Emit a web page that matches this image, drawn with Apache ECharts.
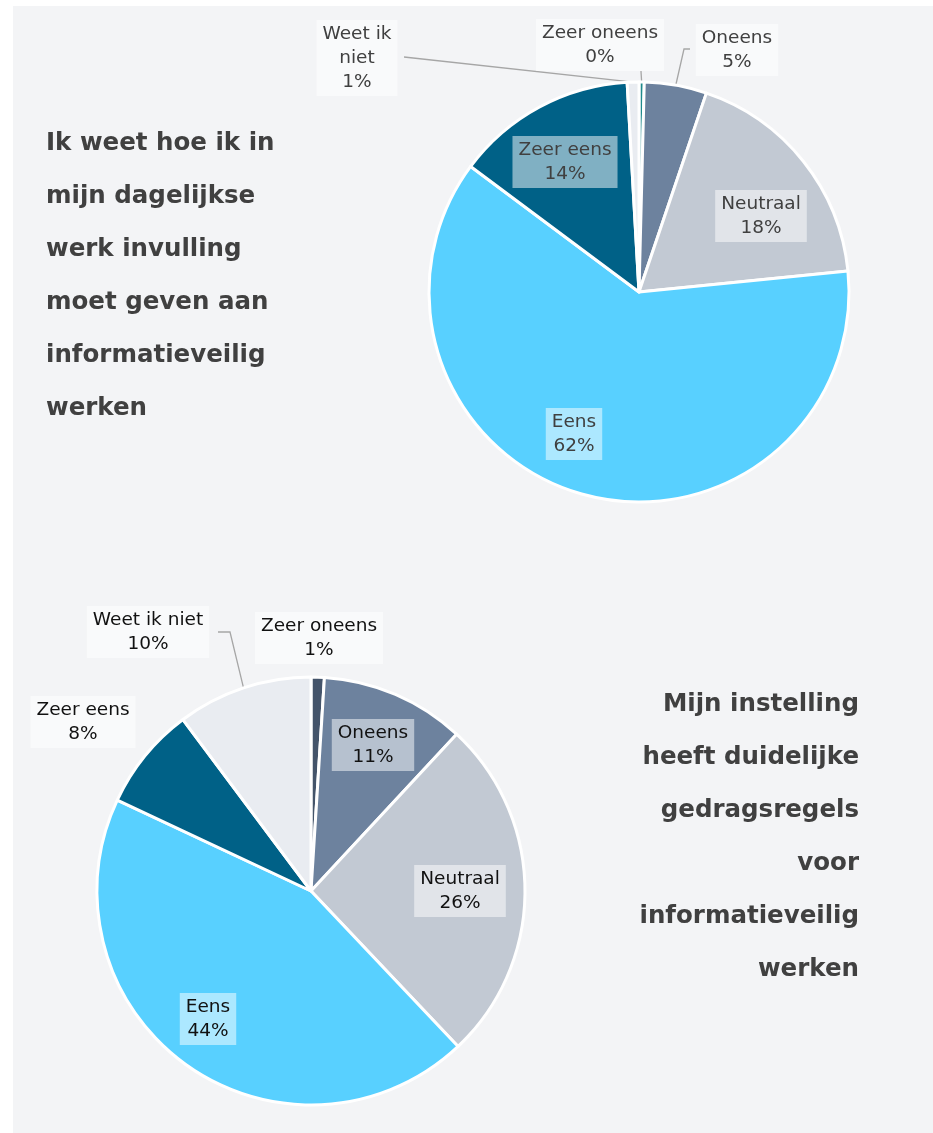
<!DOCTYPE html>
<html><head><meta charset="utf-8">
<script src="https://cdn.jsdelivr.net/npm/echarts@6/dist/echarts.min.js"></script>
<style>html,body{margin:0;padding:0;background:#fff}#c{width:933px;height:1133px}</style>
</head><body><div id="c"></div>
<script>
// ---- data ----
const categories = ['Zeer oneens', 'Oneens', 'Neutraal', 'Eens', 'Zeer eens', 'Weet ik niet'];
const topValues = [0.4, 4.8, 18.2, 61.8, 13.9, 0.9];
const bottomValues = [1.0, 10.9, 26.0, 44.0, 7.8, 10.2];
const topLabelNames = ['Zeer oneens', 'Oneens', 'Neutraal', 'Eens', 'Zeer eens', 'Weet ik\nniet'];
const bottomLabelNames = ['Zeer oneens', 'Oneens', 'Neutraal', 'Eens', 'Zeer eens', 'Weet ik niet'];
const topTitle = ['Ik weet hoe ik in', 'mijn dagelijkse', 'werk invulling', 'moet geven aan', 'informatieveilig', 'werken'];
const bottomTitle = ['Mijn instelling', 'heeft duidelijke', 'gedragsregels', 'voor', 'informatieveilig', 'werken'];

// ---- styling / layout ----
const topColors = ['#1f8a8c', '#6d829e', '#c2c9d3', '#58d0ff', '#006187', '#e9ecf1'];
const bottomColors = ['#44546a', '#6d829e', '#c2c9d3', '#58d0ff', '#006187', '#e9ecf1'];
const FONT = 'DejaVu Sans';

// label centre positions and leader-line elbows (null = no line)
const topLabelPos = [[600, 45], [737, 50], [761, 216], [574, 434], [565, 162], [357, 58]];
const topLineEnd = [[[641, 71]], [[684, 49], [690, 49]], null, null, null, [[404, 57]]];
const botLabelPos = [[319, 638], [373, 745], [460, 891], [208, 1019], [83, 722], [148, 632]];
const botLineEnd = [null, null, null, null, null, [[230, 632], [218, 632]]];

function buildData(values, colors, names, lines, txtColor) {
  return values.map((v, i) => ({
    value: v,
    name: categories[i],
    itemStyle: { color: colors[i] },
    label: {
      formatter: p => names[i] + '\n' + Math.round(p.percent) + '%',
      color: txtColor
    },
    labelLine: { show: !!lines[i], lineStyle: { color: '#a6a6a6', width: 1.3 } }
  }));
}

function layoutFn(pos, lines) {
  return function (params) {
    const i = params.dataIndex;
    const out = { x: pos[i][0], y: pos[i][1], align: 'center', verticalAlign: 'middle', hideOverlap: false, moveOverlap: null };
    if (lines[i] && params.labelLinePoints) {
      const a = params.labelLinePoints[0];
      out.labelLinePoints = [[a[0], a[1]]].concat(lines[i]);
    }
    return out;
  };
}

function series(values, colors, names, lines, pos, center, radius, txtColor) {
  return {
    type: 'pie',
    center: center,
    radius: radius,
    startAngle: 90,
    clockwise: true,
    avoidLabelOverlap: false,
    silent: true,
    animation: false,
    itemStyle: { borderColor: '#ffffff', borderWidth: 3 },
    label: {
      show: true,
      position: 'outside',
      fontFamily: FONT,
      fontSize: 18.5,
      lineHeight: 24,
      align: 'center',
      backgroundColor: 'rgba(255,255,255,0.5)',
      padding: [3, 6, 1, 6]
    },
    labelLine: { show: false, length: 10, length2: 10 },
    labelLayout: layoutFn(pos, lines),
    data: buildData(values, colors, names, lines, txtColor)
  };
}

const chart = echarts.init(document.getElementById('c'), null, { renderer: 'canvas' });
chart.setOption({
  backgroundColor: '#ffffff',
  animation: false,
  graphic: [
    { type: 'rect', z: -10, shape: { x: 13, y: 6, width: 920, height: 1127 }, style: { fill: '#f3f4f6' } },
    { type: 'text', left: 46, top: 117, style: { text: topTitle.join('\n'), font: 'bold 24.5px "' + FONT + '"', fill: '#404040', lineHeight: 53, textAlign: 'left' } },
    { type: 'text', right: 74, top: 678, style: { text: bottomTitle.join('\n'), font: 'bold 24.5px "' + FONT + '"', fill: '#404040', lineHeight: 53, textAlign: 'right' } }
  ],
  series: [
    series(topValues, topColors, topLabelNames, topLineEnd, topLabelPos, [639, 292], 210, '#404040'),
    series(bottomValues, bottomColors, bottomLabelNames, botLineEnd, botLabelPos, [311, 891], 214, '#111111')
  ]
});
</script>
</body></html>
